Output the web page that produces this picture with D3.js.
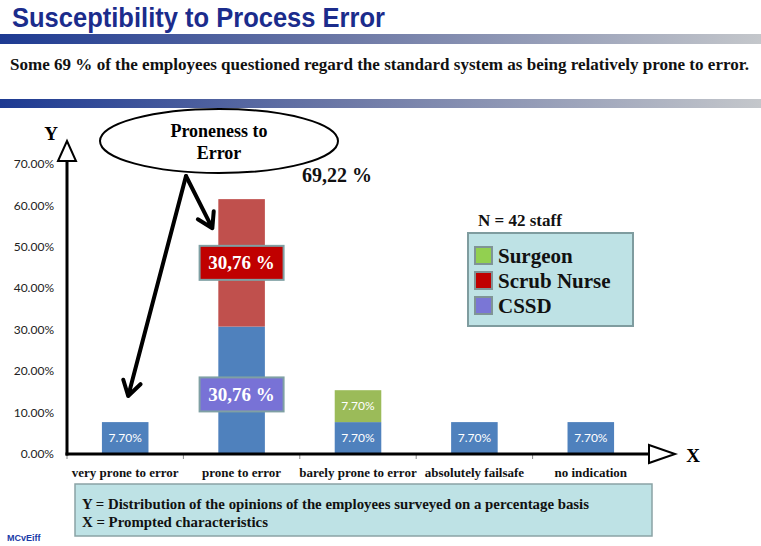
<!DOCTYPE html>
<html>
<head>
<meta charset="utf-8">
<script src="https://cdn.jsdelivr.net/npm/d3@7"></script>
<style>
  body { margin: 0; background: #fff; }
  svg { display: block; }
</style>
</head>
<body>
<script>
// data
var categories = ['very prone to error', 'prone to error', 'barely prone to error', 'absolutely failsafe', 'no indication'];
var seriesNames = ['CSSD', 'Scrub Nurse', 'Surgeon'];
var cssd = [7.70, 30.76, 7.70, 7.70, 7.70];
var scrubNurse = [0, 30.76, 0, 0, 0];
var surgeon = [0, 0, 7.70, 0, 0];
var yTicks = [0, 10, 20, 30, 40, 50, 60, 70];
var legendNames = ['Surgeon', 'Scrub Nurse', 'CSSD'];
var boxLabel = '30,76 %';
var totalLabel = '69,22 %';

var serif = '"Liberation Serif", "Times New Roman", serif';
var sans = '"Liberation Sans", Arial, sans-serif';

var svg = d3.select('body').append('svg')
    .attr('width', 761)
    .attr('height', 546);

// header
var defs = svg.append('defs');
var grad = defs.append('linearGradient').attr('id', 'band');
grad.append('stop').attr('offset', '0%').attr('stop-color', '#1d3a92');
grad.append('stop').attr('offset', '45%').attr('stop-color', '#6c78a6');
grad.append('stop').attr('offset', '100%').attr('stop-color', '#c4c7cb');

svg.append('text')
    .attr('x', 12).attr('y', 27)
    .attr('font-family', sans).attr('font-weight', 'bold')
    .attr('font-size', 28).attr('fill', '#1b2c8c')
    .attr('textLength', 373).attr('lengthAdjust', 'spacingAndGlyphs')
    .text('Susceptibility to Process Error');

svg.append('rect').attr('x', 0).attr('y', 34).attr('width', 761).attr('height', 10).attr('fill', 'url(#band)');
svg.append('rect').attr('x', 0).attr('y', 99).attr('width', 761).attr('height', 9).attr('fill', 'url(#band)');

svg.append('text')
    .attr('x', 10).attr('y', 70)
    .attr('font-family', serif).attr('font-weight', 'bold')
    .attr('font-size', 16).attr('fill', '#111')
    .attr('textLength', 739).attr('lengthAdjust', 'spacingAndGlyphs')
    .text('Some 69 % of the employees questioned regard the standard system as being relatively prone to error.');

// scales
var x = d3.scaleBand()
    .domain(categories)
    .range([67, 649])
    .paddingInner(0.6)
    .paddingOuter(0.3);

var band = d3.scaleBand().domain(categories).range([67, 649]);

var y = d3.scaleLinear()
    .domain([0, 70])
    .range([454, 164]);

// stacked data
var rows = categories.map(function(c, i) {
  return { cat: c, 'CSSD': cssd[i], 'Scrub Nurse': scrubNurse[i], 'Surgeon': surgeon[i] };
});
var stack = d3.stack().keys(seriesNames)(rows);
var barColor = { 'CSSD': '#4f81bd', 'Scrub Nurse': '#c0504d', 'Surgeon': '#9bbb59' };
var proneCat = categories[1];

// y tick labels
svg.append('g').selectAll('text')
  .data(yTicks)
  .join('text')
    .attr('x', 54)
    .attr('y', function(d) { return y(d); })
    .attr('dy', '0.35em')
    .attr('text-anchor', 'end')
    .attr('font-family', 'Lato, "Open Sans", sans-serif')
    .attr('font-size', 12)
    .attr('fill', '#222')
    .text(function(d) { return d.toFixed(2) + '%'; });

// bars
var layers = svg.append('g').selectAll('g')
  .data(stack)
  .join('g')
    .attr('fill', function(d) { return barColor[d.key]; });

layers.selectAll('rect')
  .data(function(d) { return d; })
  .join('rect')
    .attr('x', function(d) { return x(d.data.cat); })
    .attr('y', function(d) { return y(d[1]); })
    .attr('width', x.bandwidth())
    .attr('height', function(d) { return y(d[0]) - y(d[1]); });

// data labels (the prone bar is labelled by the boxes below)
layers.selectAll('text')
  .data(function(d) { return d.filter(function(p) { return p[1] - p[0] > 0 && p.data.cat !== proneCat; }); })
  .join('text')
    .attr('x', function(d) { return x(d.data.cat) + x.bandwidth() / 2; })
    .attr('y', function(d) { return y((d[0] + d[1]) / 2); })
    .attr('dy', '0.35em')
    .attr('text-anchor', 'middle')
    .attr('font-family', 'Lato, "Open Sans", sans-serif')
    .attr('font-size', 12)
    .attr('fill', '#fff')
    .text(function(d) { return (d[1] - d[0]).toFixed(2) + '%'; });

// x category ticks + labels
svg.append('g').selectAll('line')
  .data(categories)
  .join('line')
    .attr('x1', function(d) { return band(d); })
    .attr('x2', function(d) { return band(d); })
    .attr('y1', 454).attr('y2', 459)
    .attr('stroke', '#888').attr('stroke-width', 1);

svg.append('g').selectAll('text')
  .data(categories)
  .join('text')
    .attr('x', function(d) { return band(d) + band.bandwidth() / 2; })
    .attr('y', 477)
    .attr('text-anchor', 'middle')
    .attr('font-family', serif).attr('font-weight', 'bold')
    .attr('font-size', 13).attr('fill', '#111')
    .text(function(d) { return d; });

// axes with arrow heads
var x0 = band.range()[0], x1 = band.range()[1];
svg.append('line')
    .attr('x1', x0).attr('x2', x0).attr('y1', y(0) + 1.5).attr('y2', 160)
    .attr('stroke', '#000').attr('stroke-width', 3);
svg.append('line')
    .attr('x1', x0 - 1.5).attr('x2', x1).attr('y1', y(0)).attr('y2', y(0))
    .attr('stroke', '#000').attr('stroke-width', 3);
svg.append('path')
    .attr('d', 'M' + (x0 - 9) + ',161L' + x0 + ',141L' + (x0 + 9) + ',161Z')
    .attr('fill', '#fff').attr('stroke', '#000').attr('stroke-width', 2);
svg.append('path')
    .attr('d', 'M' + x1 + ',' + (y(0) - 9) + 'L' + (x1 + 26) + ',' + y(0) + 'L' + x1 + ',' + (y(0) + 9) + 'Z')
    .attr('fill', '#fff').attr('stroke', '#000').attr('stroke-width', 2);

svg.append('text')
    .attr('x', 51).attr('y', 140)
    .attr('text-anchor', 'middle')
    .attr('font-family', serif).attr('font-weight', 'bold')
    .attr('font-size', 19).text('Y');
svg.append('text')
    .attr('x', 693).attr('y', 462)
    .attr('text-anchor', 'middle')
    .attr('font-family', serif).attr('font-weight', 'bold')
    .attr('font-size', 19).text('X');

// value boxes on the "prone to error" bar
var cx = x(proneCat) + x.bandwidth() / 2;
var boxes = [
  { mid: (cssd[1] + cssd[1] + scrubNurse[1]) / 2, fill: '#c00000' },
  { mid: cssd[1] / 2 - 1, fill: '#7872d6' }
];
var bx = svg.append('g').selectAll('g')
  .data(boxes)
  .join('g');
bx.append('rect')
    .attr('x', cx - 42).attr('width', 84)
    .attr('y', function(d) { return y(d.mid) - 17; }).attr('height', 34)
    .attr('fill', function(d) { return d.fill; })
    .attr('stroke', '#7fa0a4').attr('stroke-width', 2);
bx.append('text')
    .attr('x', cx)
    .attr('y', function(d) { return y(d.mid); })
    .attr('dy', '0.35em')
    .attr('text-anchor', 'middle')
    .attr('font-family', serif).attr('font-weight', 'bold')
    .attr('font-size', 19).attr('fill', '#fff')
    .text(boxLabel);

svg.append('text')
    .attr('x', 302).attr('y', 182)
    .attr('font-family', serif).attr('font-weight', 'bold')
    .attr('font-size', 20).attr('fill', '#111')
    .text(totalLabel);

// callout ellipse with arrows
function arrow(sx, sy, tx, ty) {
  var a = Math.atan2(ty - sy, tx - sx), L = 17, s = 0.55;
  var p1 = [tx - L * Math.cos(a - s), ty - L * Math.sin(a - s)];
  var p2 = [tx - L * Math.cos(a + s), ty - L * Math.sin(a + s)];
  svg.append('path')
      .attr('d', 'M' + sx + ',' + sy + 'L' + tx + ',' + ty + 'M' + p1 + 'L' + tx + ',' + ty + 'L' + p2)
      .attr('fill', 'none').attr('stroke', '#000').attr('stroke-width', 4)
      .attr('stroke-linecap', 'round').attr('stroke-linejoin', 'round');
}
arrow(186, 176, x(proneCat) - 6, y(54.5));
arrow(186, 176, x(categories[0]) + x.bandwidth() / 2 + 3, y(14));

svg.append('ellipse')
    .attr('cx', 219).attr('cy', 141).attr('rx', 119).attr('ry', 32)
    .attr('fill', '#fff').attr('stroke', '#000').attr('stroke-width', 2);
svg.append('text')
    .attr('x', 219).attr('y', 137)
    .attr('text-anchor', 'middle')
    .attr('font-family', serif).attr('font-weight', 'bold').attr('font-size', 18)
    .text('Proneness to');
svg.append('text')
    .attr('x', 219).attr('y', 159)
    .attr('text-anchor', 'middle')
    .attr('font-family', serif).attr('font-weight', 'bold').attr('font-size', 18)
    .text('Error');

// legend
svg.append('text')
    .attr('x', 478).attr('y', 226)
    .attr('font-family', serif).attr('font-weight', 'bold')
    .attr('font-size', 17).attr('fill', '#111')
    .text('N = 42 staff');

svg.append('rect')
    .attr('x', 468).attr('y', 233).attr('width', 165).attr('height', 93)
    .attr('fill', '#bee2e5').attr('stroke', '#7f9c9f').attr('stroke-width', 2);

var legendColor = { 'Surgeon': '#92d050', 'Scrub Nurse': '#c00000', 'CSSD': '#7a76d6' };
var lg = svg.append('g').selectAll('g')
  .data(legendNames)
  .join('g')
    .attr('transform', function(d, i) { return 'translate(475,' + (247 + i * 25) + ')'; });
lg.append('rect')
    .attr('width', 17).attr('height', 17)
    .attr('fill', function(d) { return legendColor[d]; })
    .attr('stroke', '#7f9496').attr('stroke-width', 2);
lg.append('text')
    .attr('x', 23).attr('y', 8.5).attr('dy', '0.35em')
    .attr('font-family', serif).attr('font-weight', 'bold')
    .attr('font-size', 21).attr('fill', '#111')
    .text(function(d) { return d; });

// bottom note
svg.append('rect')
    .attr('x', 75).attr('y', 484).attr('width', 577).attr('height', 52)
    .attr('fill', '#bee2e5').attr('stroke', '#8aa3a5').attr('stroke-width', 1.5);
svg.append('text')
    .attr('x', 82).attr('y', 509)
    .attr('font-family', serif).attr('font-weight', 'bold')
    .attr('font-size', 15).attr('fill', '#111')
    .attr('textLength', 507).attr('lengthAdjust', 'spacingAndGlyphs')
    .text('Y = Distribution of the opinions of the employees surveyed on a percentage basis');
svg.append('text')
    .attr('x', 82).attr('y', 527)
    .attr('font-family', serif).attr('font-weight', 'bold')
    .attr('font-size', 15).attr('fill', '#111')
    .attr('textLength', 186).attr('lengthAdjust', 'spacingAndGlyphs')
    .text('X = Prompted characteristics');

svg.append('text')
    .attr('x', 7).attr('y', 541)
    .attr('font-family', sans).attr('font-weight', 'bold')
    .attr('font-size', 9).attr('fill', '#1a3aa8')
    .text('MCvEiff');
</script>
</body>
</html>
